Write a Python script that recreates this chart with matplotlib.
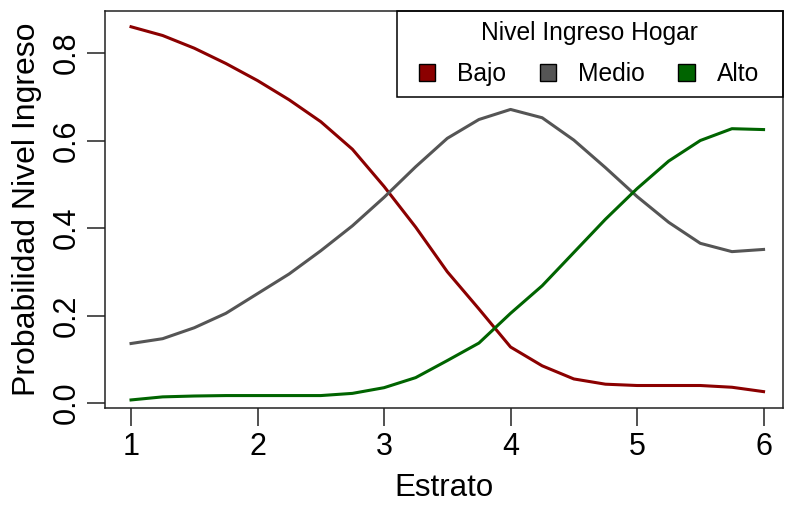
import matplotlib
matplotlib.use("Agg")
import matplotlib.pyplot as plt
from matplotlib.patches import Patch, Rectangle
import numpy as np

plt.rcParams['font.family'] = ['Liberation Sans', 'DejaVu Sans']

# valores
estrato = [1.0, 1.25, 1.5, 1.75, 2.0, 2.25, 2.5, 2.75, 3.0, 3.25, 3.5,
           3.75, 4.0, 4.25, 4.5, 4.75, 5.0, 5.25, 5.5, 5.75, 6.0]
bajo = [0.860, 0.840, 0.811, 0.776, 0.737, 0.693, 0.643, 0.580, 0.495, 0.402, 0.300,
        0.215, 0.128, 0.085, 0.055, 0.043, 0.040, 0.040, 0.040, 0.036, 0.026]
medio = [0.136, 0.147, 0.172, 0.205, 0.250, 0.295, 0.348, 0.405, 0.470, 0.540, 0.605,
         0.648, 0.671, 0.652, 0.601, 0.538, 0.472, 0.413, 0.365, 0.346, 0.351]
alto = [0.007, 0.014, 0.016, 0.017, 0.017, 0.017, 0.017, 0.022, 0.035, 0.058, 0.097,
        0.137, 0.205, 0.268, 0.344, 0.420, 0.490, 0.553, 0.600, 0.627, 0.625]

niveles = ['Bajo', 'Medio', 'Alto']
colores = ['#8B0000', '#555555', '#006400']

fig = plt.figure(figsize=(7.85, 5.05), dpi=100)
ax = fig.add_axes([0.1338, 0.1921, 0.8637, 0.7861])

for serie, c in zip([bajo, medio, alto], colores):
    ax.plot(estrato, serie, color=c, lw=2.2)

ax.set_xlim(0.7945, 6.154)
ax.set_ylim(-0.0114, 0.896)
ax.set_xticks([1, 2, 3, 4, 5, 6])
ax.set_yticks([0.0, 0.2, 0.4, 0.6, 0.8])
ax.set_yticklabels(['0.0', '0.2', '0.4', '0.6', '0.8'], rotation=90, va='center')

for s in ax.spines.values():
    s.set_linewidth(1.1)
    s.set_color('#222222')
ax.tick_params(axis='both', length=13, width=1.1, color='#222222', labelsize=22)
ax.tick_params(axis='x', pad=4)
ax.tick_params(axis='y', pad=4)

ax.set_xlabel('Estrato', fontsize=22.5, labelpad=8)
ax.set_ylabel('Probabilidad Nivel Ingreso', fontsize=23, labelpad=7)

# leyenda: caja dibujada aparte, contenido sin marco
ax.add_patch(Rectangle((0.431, 0.783), 0.569, 0.217, transform=ax.transAxes,
                       fill=False, edgecolor='black', lw=1.1, clip_on=False, zorder=5))
handles = [Patch(facecolor=c, edgecolor='black', lw=1.0) for c in colores]
leg = ax.legend(handles, niveles, title='Nivel Ingreso Hogar', ncol=3,
                loc='upper left', bbox_to_anchor=(0.448, 0.999),
                borderaxespad=0, borderpad=0.4, fontsize=17.7, title_fontsize=17.7,
                handlelength=0.68, handleheight=0.68, handletextpad=0.9,
                columnspacing=1.35, frameon=False, labelspacing=0.7)

fig.savefig('out.png', dpi=100)
